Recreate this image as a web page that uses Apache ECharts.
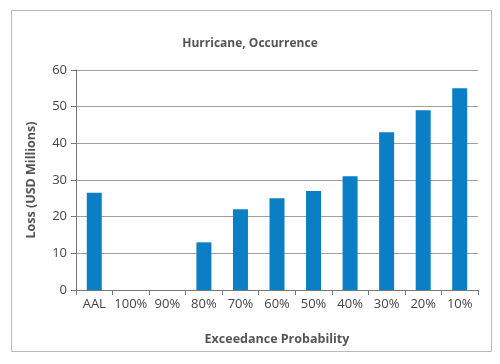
<!DOCTYPE html>
<html><head><meta charset="utf-8">
<script src="https://cdn.jsdelivr.net/npm/echarts@6/dist/echarts.min.js"></script>
<style>html,body{margin:0;padding:0;background:#fff}#c{width:500px;height:364px}</style>
</head><body><div id="c"></div>
<script>
const categories = ['AAL','100%','90%','80%','70%','60%','50%','40%','30%','20%','10%'];
const losses = [26.5, 0, 0, 13, 22, 25, 27, 31, 43, 49, 55];
const yTicks = [0, 10, 20, 30, 40, 50, 60];
const titleText = 'Hurricane, Occurrence';
const xName = 'Exceedance Probability';
const yName = 'Loss (USD Millions)';

const chart = echarts.init(document.getElementById('c'), null, {renderer:'canvas'});
const font = '"Open Sans", "Noto Sans", sans-serif';
chart.setOption({
  animation:false,
  backgroundColor:'#fff',
  graphic:[{type:'rect', shape:{x:11.5,y:10.5,width:480,height:341}, style:{fill:'none', stroke:'#b8b8b8', lineWidth:1}, silent:true}],
  title:{text:titleText, left:'center', top:33, textStyle:{fontFamily:font, fontSize:12, fontWeight:'bold', color:'#555'}},
  grid:{left:76, right:22, top:70, bottom:74},
  xAxis:{type:'category', data:categories, name:xName, nameLocation:'middle', nameGap:43,
    nameTextStyle:{fontFamily:font, fontSize:12.5, fontWeight:'bold', color:'#555'},
    axisLine:{lineStyle:{color:'#777'}}, axisTick:{show:true, length:5, lineStyle:{color:'#777'}},
    axisLabel:{fontFamily:font, fontSize:13, color:'#444', margin:8, interval:0}},
  yAxis:{type:'value', min:yTicks[0], max:yTicks[yTicks.length-1], interval:10, name:yName, nameLocation:'middle', nameGap:38,
    nameTextStyle:{fontFamily:font, fontSize:12.5, fontWeight:'bold', color:'#555'},
    axisLine:{show:true, lineStyle:{color:'#777'}}, axisTick:{show:true, length:5, lineStyle:{color:'#777'}},
    axisLabel:{fontFamily:font, fontSize:13, color:'#444', margin:9},
    splitLine:{lineStyle:{color:'#a0a0a0'}}},
  series:[{type:'bar', data:losses, barWidth:15, itemStyle:{color:'#0a7fc6'}}]
});
</script></body></html>
